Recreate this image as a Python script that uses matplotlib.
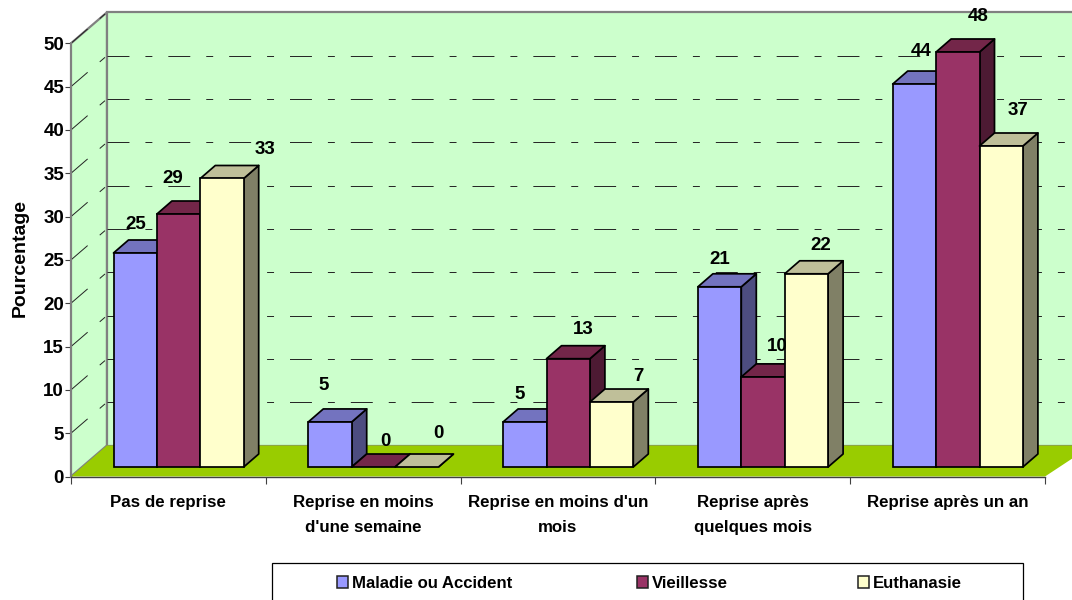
import matplotlib
matplotlib.use("Agg")
import matplotlib.pyplot as plt
from matplotlib.patches import Polygon, Rectangle

categories = ["Pas de reprise", "Reprise en moins\nd'une semaine", "Reprise en moins d'un\nmois",
              "Reprise après\nquelques mois", "Reprise après un an"]
series_names = ["Maladie ou Accident", "Vieillesse", "Euthanasie"]

# bar heights as measured, the printed labels are rounded differently
maladie = [24.7, 5.2, 5.2, 20.8, 44.2]
vieillesse = [29.2, 0, 12.5, 10.4, 47.9]
euthanasie = [33.3, 0, 7.5, 22.3, 37.05]

maladie_labels = [25, 5, 5, 21, 44]
vieillesse_labels = [29, 0, 13, 10, 48]
euthanasie_labels = [33, 0, 7, 22, 37]

# label offset from top of bar, in pixels (hand placed in the original)
label_dx = [[1, -6, -5.5, 0, 6.5], [-5.5, 12, 15, 14, 20], [43, 22, 27, 14.5, 16.5]]
label_dy = [[28, 36, 27, 27, 33], [36, 26, 29, 30, 35], [29, 34, 26, 28, 35]]

y_ticks = list(range(0, 55, 5))

face = ["#9999FF", "#993366", "#FFFFCC"]
top = ["#7373BF", "#732649", "#BFBF99"]
side = ["#4D4D80", "#4D1A33", "#808066"]

plt.rcParams["font.family"] = ["Liberation Sans", "DejaVu Sans"]
plt.rcParams["font.weight"] = "bold"
plt.rcParams["lines.scale_dashes"] = False

W, H = 1072, 600
X0, X1, Y0, Y50 = 71, 1045, 476.5, 43.3

fig = plt.figure(figsize=(W / 100, H / 100), dpi=100)
ax = fig.add_axes([X0 / W, 1 - Y0 / H, (X1 - X0) / W, (Y0 - Y50) / H])
ax.set_xlim(0, 5)
ax.set_ylim(0, 50)
ax.patch.set_visible(False)

# pixels -> data units
ux = 5 / (X1 - X0)
uy = 50 / (Y0 - Y50)

dep_x, dep_y = 36 * ux, 31 * uy      # depth of the box
bar_dx, bar_dy = 15 * ux, 13 * uy    # depth of a bar
base_y = (Y0 - 467) * uy             # bars stand a bit behind the front edge
bar_w = 43.4 * ux
bar_start = 42.5 * ux
right = (W - X0 + 20) * ux

# walls and floor
wall = "#CCFFCC"
edge = "#808080"
ax.add_patch(Polygon([(0, 0), (dep_x, dep_y), (dep_x, 50 + dep_y), (0, 50)],
                     fc=wall, ec=edge, lw=1.6, clip_on=False, zorder=1))
ax.add_patch(Polygon([(dep_x, dep_y), (right, dep_y), (right, 50 + dep_y), (dep_x, 50 + dep_y)],
                     fc=wall, ec=edge, lw=1.6, clip_on=False, zorder=1))
ax.add_patch(Polygon([(0, 0), (dep_x, dep_y), (right, dep_y), (5, 0)],
                     fc="#99CC00", ec="none", clip_on=False, zorder=2))

# dashed grid on both walls
dashes = (0, (15.8, 11.5, 5, 11.5))
for v in y_ticks[1:]:
    if v < 50:
        ax.plot([dep_x, right], [v + dep_y, v + dep_y], color="#222222", lw=0.7,
                ls=dashes, clip_on=False, zorder=3)
    ax.plot([0, dep_x], [v, v + dep_y], color="#222222", lw=0.7,
            ls=dashes, clip_on=False, zorder=3)

all_values = [maladie, vieillesse, euthanasie]
all_labels = [maladie_labels, vieillesse_labels, euthanasie_labels]

z = 4
for c in range(len(categories)):
    for s in range(3):
        v = all_values[s][c]
        x = c + bar_start + s * bar_w
        y1 = base_y + v
        lw = 1.25
        # side, top then front
        ax.add_patch(Polygon([(x + bar_w, base_y), (x + bar_w + bar_dx, base_y + bar_dy),
                              (x + bar_w + bar_dx, y1 + bar_dy), (x + bar_w, y1)],
                             fc=side[s], ec="black", lw=lw, joinstyle="round", clip_on=False, zorder=z))
        ax.add_patch(Polygon([(x, y1), (x + bar_dx, y1 + bar_dy),
                              (x + bar_w + bar_dx, y1 + bar_dy), (x + bar_w, y1)],
                             fc=top[s], ec="black", lw=lw, joinstyle="round", clip_on=False, zorder=z))
        if v > 0:
            ax.add_patch(Rectangle((x, base_y), bar_w, v, fc=face[s], ec="black", lw=lw,
                                   clip_on=False, zorder=z))
        z += 1
        ax.text(x + bar_w / 2 + label_dx[s][c] * ux, y1 + label_dy[s][c] * uy, str(all_labels[s][c]),
                ha="center", va="center", fontsize=13.5, color="black", zorder=30, clip_on=False)

# axes
for name in ["top", "right"]:
    ax.spines[name].set_visible(False)
ax.spines["left"].set_color(edge)
ax.spines["left"].set_linewidth(1.4)
ax.spines["bottom"].set_color("#404040")
ax.spines["bottom"].set_linewidth(1.0)
ax.spines["left"].set_zorder(3)
ax.spines["bottom"].set_zorder(3)

ax.set_yticks(y_ticks)
ax.tick_params(axis="y", length=4, width=0.8, color="#404040", labelsize=13.5, pad=1)
ax.set_xticks(range(6))
ax.set_xticklabels([])
ax.tick_params(axis="x", which="major", length=5, width=0.8, color="#404040")
ax.set_xticks([i + 0.5 for i in range(5)], minor=True)
ax.set_xticklabels(categories, minor=True, fontsize=12.2, linespacing=1.9, va="top")
ax.tick_params(axis="x", which="minor", length=0, pad=13)

fig.text(20 / W, 1 - 258 / H, "Pourcentage", rotation=90, ha="center", va="center", fontsize=14)

# legend box, its bottom is cut by the picture edge
fig.add_artist(Rectangle((272 / W, 1 - 620 / H), 751 / W, 57 / H, fc="white", ec="black", lw=0.9,
                         transform=fig.transFigure))
legend_x = [337, 637, 858]
for s, name in enumerate(series_names):
    fig.add_artist(Rectangle((legend_x[s] / W, 1 - 588 / H), 11 / W, 12 / H, fc=face[s], ec="#202020",
                             lw=1.1, transform=fig.transFigure))
    fig.text((legend_x[s] + 15) / W, 1 - 583 / H, name, ha="left", va="center", fontsize=12.1)

fig.savefig("out.png", dpi=100)
